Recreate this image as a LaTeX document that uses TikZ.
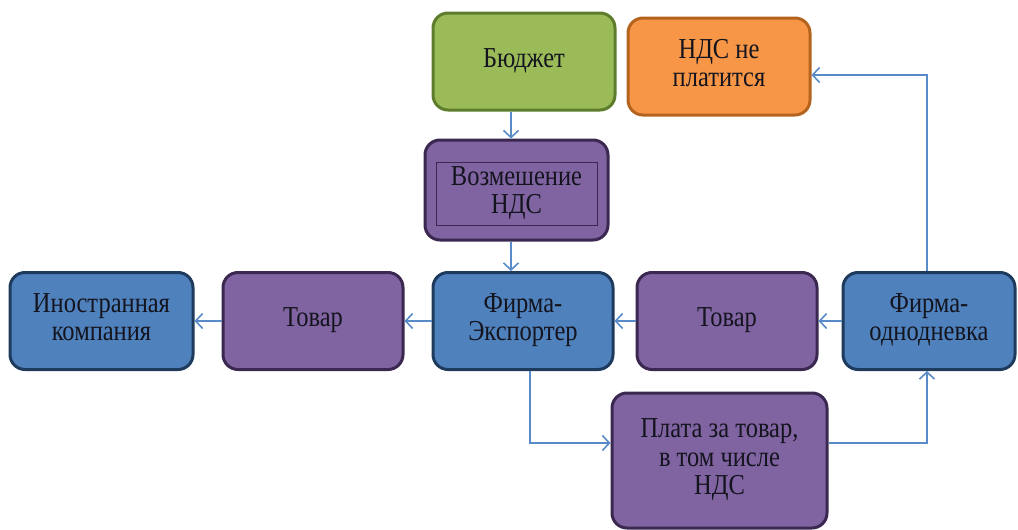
\documentclass[tikz,border=0pt]{standalone}
\usepackage{fontspec}
\setmainfont{Liberation Serif}
\usetikzlibrary{arrows.meta}
\definecolor{gfill}{HTML}{9BBB59}\definecolor{gdraw}{HTML}{5E7D2C}
\definecolor{ofill}{HTML}{F79646}\definecolor{odraw}{HTML}{B4631E}
\definecolor{pfill}{HTML}{8064A2}\definecolor{pdraw}{HTML}{3A2850}
\definecolor{bfill}{HTML}{4F81BD}\definecolor{bdraw}{HTML}{1E3B5E}
\definecolor{arrc}{HTML}{5A8BC9}
\definecolor{txt}{HTML}{14141E}
\newcommand\tx[1]{\scalebox{1}[1.18]{\begin{tabular}{@{}c@{}}#1\end{tabular}}}
\tikzset{
  txtfont/.style={font=\fontsize{24.5}{24}\selectfont},
  box/.style={rounded corners=15pt, line width=3pt, align=center, text=txt,
    inner sep=0pt, txtfont},
  gbox/.style={box, fill=gfill, draw=gdraw},
  obox/.style={box, fill=ofill, draw=odraw},
  pbox/.style={box, fill=pfill, draw=pdraw},
  bbox/.style={box, fill=bfill, draw=bdraw},
  arr/.style={draw=arrc, line width=1.6pt, -{Straight Barb[length=7pt,width=15pt,line width=1.6pt]}}
}
\begin{document}
\begin{tikzpicture}[x=1pt,y=-1pt]
\useasboundingbox (0,0) rectangle (1018,530);
\node[gbox, minimum width=182pt, minimum height=97pt] (budget) at (524,61.5) {\tx{Бюджет}};
\node[obox, minimum width=182pt, minimum height=97pt] (nds) at (719,66.5) {\tx{НДС не\\платится}};
\node[pbox, minimum width=183pt, minimum height=100pt] (vozm) at (516.5,190) {};
\node[draw=pdraw, line width=0.8pt, minimum width=161pt, minimum height=63pt, align=center, text=txt, inner sep=0pt, txtfont] (vozmin) at (516.5,193.5) {\tx{Возмешение\\НДС}};
\node[bbox, minimum width=183pt, minimum height=97pt] (inostr) at (101.5,321) {\tx{Иностранная\\компания}};
\node[pbox, minimum width=180pt, minimum height=97pt] (tovar1) at (313,321) {\tx{Товар}};
\node[bbox, minimum width=180pt, minimum height=97pt] (export) at (523,321) {\tx{Фирма-\\Экспортер}};
\node[pbox, minimum width=180pt, minimum height=97pt] (tovar2) at (727,321) {\tx{Товар}};
\node[bbox, minimum width=172pt, minimum height=97pt] (odn) at (929,321) {\tx{Фирма-\\однодневка}};
\node[pbox, minimum width=215pt, minimum height=135pt] (plata) at (719.5,460.5) {\tx{Плата за товар,\\в том числе\\НДС}};
\draw[arr] ([xshift=-5.5pt]vozm.north |- budget.south) -- ([xshift=-5.5pt]vozm.north);
\draw[arr] ([xshift=-12pt]export.north |- vozm.south) -- ([xshift=-12pt]export.north);
\draw[arr] (export.west) -- (tovar1.east);
\draw[arr] (tovar1.west) -- (inostr.east);
\draw[arr] (tovar2.west) -- (export.east);
\draw[arr] (odn.west) -- (tovar2.east);
\draw[arr] ([xshift=-2pt]odn.north) |- ([yshift=-8.5pt]nds.east);
\draw[arr] ([xshift=7pt]export.south) |- ([yshift=17.5pt]plata.west);
\draw[arr] ([yshift=17.5pt]plata.east) -| ([xshift=-2pt]odn.south);
\end{tikzpicture}
\end{document}
